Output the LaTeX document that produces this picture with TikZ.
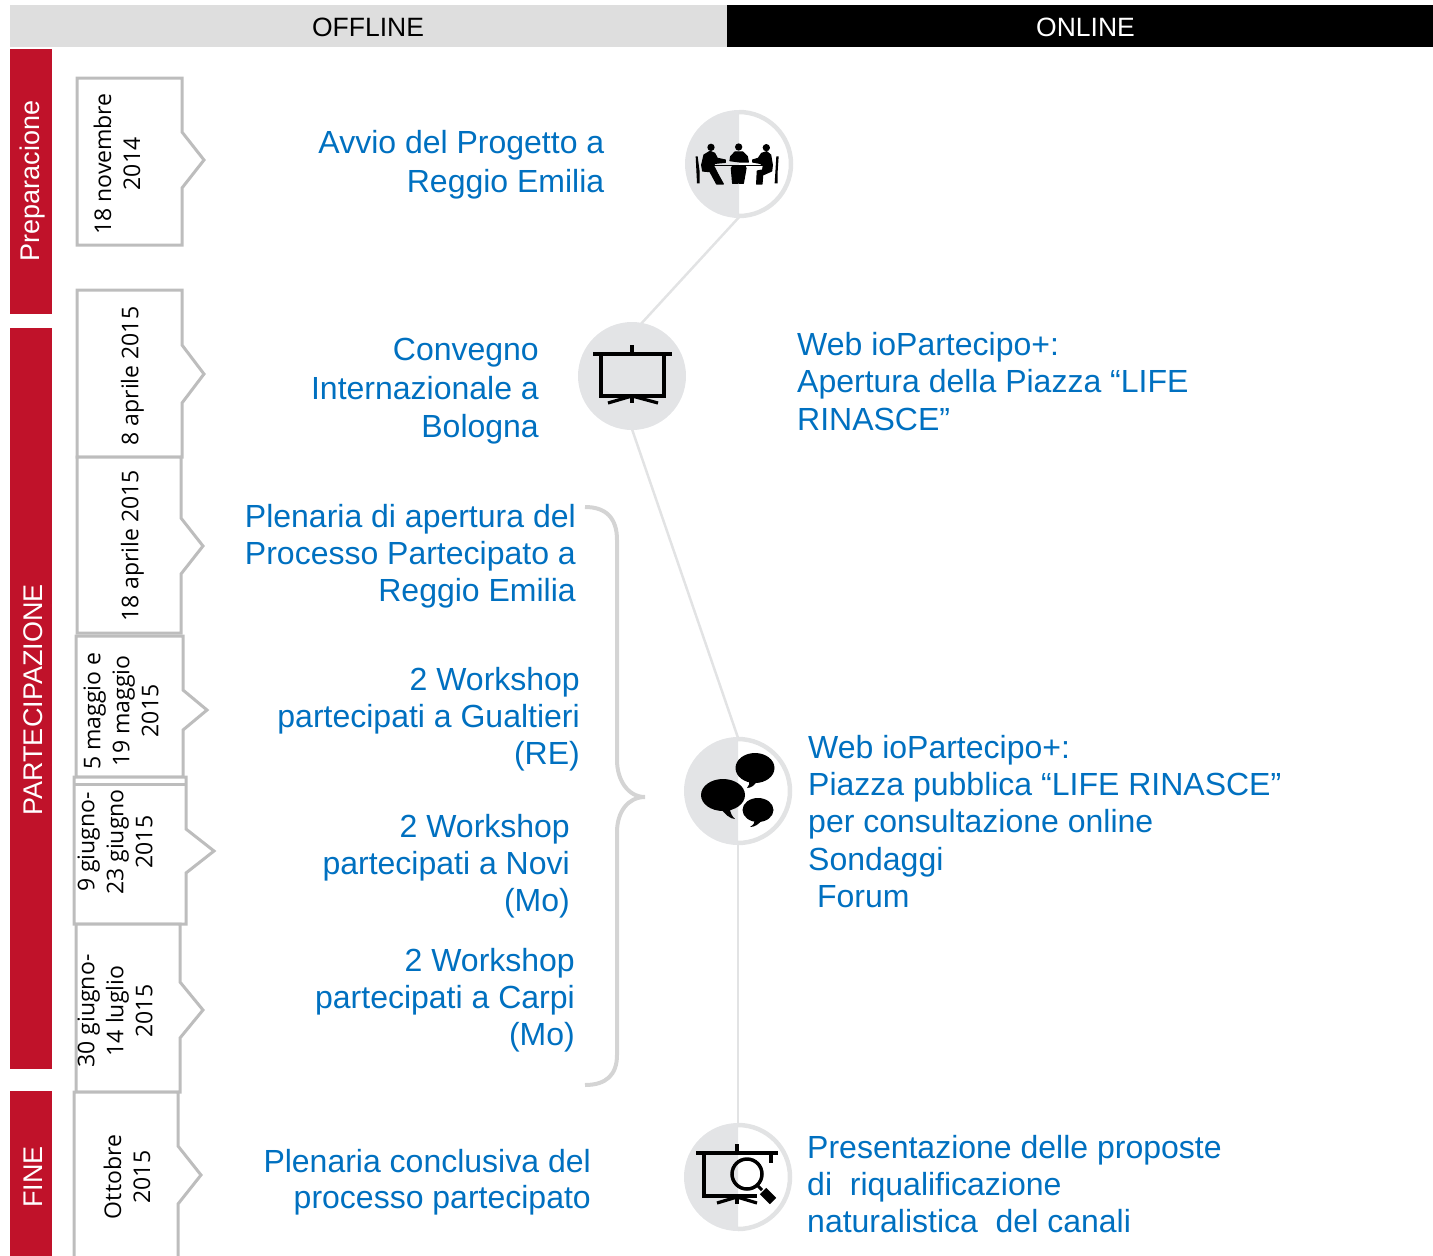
\documentclass[tikz,border=0pt]{standalone}
\usepackage{fontspec}
\setmainfont{Liberation Sans}
\newfontfamily\datefont{Open Sans}
\definecolor{blu}{HTML}{0070C0}
\definecolor{rosso}{HTML}{C0122A}
\definecolor{grig}{HTML}{E3E4E6}
\definecolor{testa}{HTML}{DEDEDE}
\definecolor{bordo}{HTML}{BDBDBD}
\definecolor{conn}{HTML}{E2E3E4}
\definecolor{graffa}{HTML}{D4D4D4}
\tikzset{
  bluR/.style={anchor=north east,align=right,inner sep=0pt,text=blu,font=\fontsize{32}{37}\selectfont,execute at begin node=\strut},
  bluL/.style={anchor=north west,align=left,inner sep=0pt,text=blu,font=\fontsize{32}{37}\selectfont,execute at begin node=\strut},
  datetxt/.style={rotate=90,align=center,inner sep=0pt,font=\datefont\fontsize{23}{29}\selectfont},
  bandtxt/.style={rotate=90,inner sep=0pt,text=white,font=\fontsize{27}{32}\selectfont},
  headtxt/.style={inner sep=0pt,font=\fontsize{26.5}{30}\selectfont},
  datebox/.style={draw=bordo,line width=3pt,fill=white,line join=miter},
  disc/.style={circle,minimum size=106pt,inner sep=0pt,draw=none},
  link/.style={draw=conn,line width=2.5pt},
  ring/.style={draw=conn,line width=4.5pt},
  ico/.style={draw=black,line width=3.2pt},
  person/.style={fill=black,draw=black,line width=1.2pt,line join=round},
}
% x1,y1,x2,y2,notch top,notch bottom,tip x
\newcommand{\dbox}[7]{\path[datebox] (#1,#2) -- (#3,#2) -- (#3,#5) -- (#7,{(#5+#6)/2}) -- (#3,#6) -- (#3,#4) -- (#1,#4) -- cycle;}
\newcommand{\halfdisc}[2]{%
  \fill[grig] (#1,#2-54) arc[start angle=90,end angle=270,radius=54pt] -- cycle;
  \draw[ring] (#1,#2-52) arc[start angle=90,end angle=-90,radius=52pt];}
\begin{document}
\begin{tikzpicture}[x=1pt,y=-1pt]
\useasboundingbox (0,0) rectangle (1433,1256);
% header
\fill[testa] (10,5) rectangle (727,47);
\fill[black] (727,5) rectangle (1433,47);
\node[headtxt] (hoff) at (368,27) {OFFLINE};
\node[headtxt,text=white] (hon) at (1085.5,27) {ONLINE};
% bands
\fill[rosso] (10,49) rectangle (52,314);
\fill[rosso] (10,328) rectangle (52,1069);
\fill[rosso] (10,1091) rectangle (52,1256);
\node[bandtxt] (b1) at (33,181) {Preparacione};
\node[bandtxt] (b2) at (33,700) {PARTECIPAZIONE};
\node[bandtxt] (b3) at (33,1177) {FINE};
% date boxes
\begin{scope}
\clip (0,0) rectangle (1433,1256);
\dbox{77}{78}{182}{245}{132}{188}{204}
\dbox{77}{290}{182}{457}{345}{403}{204}
\dbox{77}{457}{181}{633}{518}{574}{203}
\dbox{76}{636}{183}{777}{690}{730}{207}
\dbox{74}{777}{186}{924}{829}{873}{214}
\draw[bordo,line width=3pt] (74,784.5) -- (186,784.5);
\dbox{76}{924}{180}{1092}{982}{1038}{203}
\dbox{74}{1092}{178}{1270}{1146}{1204}{201}
\end{scope}
\node[datetxt] (d1) at (117,164) {18 novembre\\2014};
\node[datetxt] (d2) at (132.5,376) {8 aprile 2015};
\node[datetxt] (d3) at (132.5,546) {18 aprile 2015};
\node[datetxt] (d4) at (121,711) {5 maggio e\\19 maggio\\2015};
\node[datetxt] (d5) at (115,842) {9 giugno-\\23 giugno\\2015};
\node[datetxt] (d6) at (115,1011) {30 giugno-\\14 luglio\\2015};
\node[datetxt] (d7) at (127,1177) {Ottobre\\2015};
% nodes of the timeline
\node[disc] (c1) at (739,164) {};
\node[disc] (c2) at (632,376) {};
\node[disc] (c3) at (738,791) {};
\node[disc] (c4) at (738,1177) {};
\draw[link] (c1.south) -- (c2.80);
\draw[link] (c2.south) -- (c3.north);
\draw[link] (c3.south) -- (c4.north);
\halfdisc{739}{164}
\fill[grig] (c2) circle (54pt);
\halfdisc{738}{791}
\halfdisc{738}{1177}
% people icon
\begin{scope}[shift={(660,90)},x=0.3333pt,y=-0.3333pt]
\fill (153,172) circle (11);
\fill (236,171) circle (11);
\fill (319,173) circle (11);
\path[person] (125,225) -- (132,195) -- (150,184) -- (164,190) -- (172,205) -- (196,210) -- (196,217) -- (165,220) -- (160,226) -- (175,255) -- (190,282) -- (170,282) -- (150,245) -- (128,243) -- cycle;
\path[person] (212,200) -- (225,186) -- (248,186) -- (262,200) -- (265,216) -- (240,216) -- (210,212) -- cycle;
\path[person] (218,228) -- (255,228) -- (258,235) -- (250,280) -- (238,280) -- (236,250) -- (234,280) -- (218,280) -- (214,235) -- cycle;
\path[person] (337,225) -- (332,195) -- (320,185) -- (305,190) -- (295,205) -- (278,210) -- (278,216) -- (300,220) -- (310,226) -- (308,240) -- (292,243) -- (290,282) -- (306,282) -- (308,255) -- (335,243) -- cycle;
\fill (107,199) -- (113,199) -- (119,245) -- (119,280) -- (111,280) -- cycle;
\fill (349,199) -- (356,199) -- (353,245) -- (353,280) -- (344,280) -- cycle;
\fill (155,224) rectangle (312,228);
\end{scope}
% screen icon
\draw[ico] (593,354) -- (672,354);
\draw[ico] (632,345) -- (632,354);
\draw[ico] (601,354) -- (601,396) -- (664,396) -- (664,354);
\draw[ico] (608,403) -- (632,396) -- (658,403);
\draw[ico] (632,396) -- (632,403);
% speech bubbles
\fill (723,795) ellipse (22pt and 16pt);
\fill (720,808) -- (730,808) .. controls (730,813) and (732,816) .. (735,819) .. controls (730,819) and (725,814) .. (720,808) -- cycle;
\fill (755,768) ellipse (19.5pt and 15pt);
\fill (749,780) -- (757,781) .. controls (755,785) and (751,788) .. (747,788) .. controls (749,786) and (750,783) .. (749,780) -- cycle;
\fill (758,810) ellipse (15.5pt and 12pt);
\fill (755,820) -- (762,820) .. controls (759,824) and (755,827) .. (750,827) .. controls (753,825) and (755,823) .. (755,820) -- cycle;
% screen with lens icon
\draw[ico] (696,1153) -- (778,1153);
\draw[ico] (737,1144) -- (737,1153);
\draw[ico] (704,1153) -- (704,1196) -- (757,1196);
\draw[ico] (771,1153) -- (771,1163);
\draw[ico] (717,1203) -- (737,1197) -- (757,1203);
\draw[ico] (737,1197) -- (737,1204);
\draw[black,line width=3.5pt] (747,1174) circle (15pt);
\draw[black,line width=3pt] (757,1185) -- (762,1190);
\draw[black,line width=9pt] (763,1191) -- (773,1201);
% brace
\draw[draw=graffa,line width=4pt] (585,507) .. controls (606,507) and (617,518) .. (617,540) -- (617,760) .. controls (617,780) and (628,797) .. (645,797) .. controls (628,797) and (617,812) .. (617,832) -- (617,1055) .. controls (617,1075) and (606,1085) .. (585,1085);
% texts
\node[bluR,font=\fontsize{32}{38.8}\selectfont] (t1) at (604.5,130) {Avvio del Progetto a\\Reggio Emilia};
\node[bluR,font=\fontsize{32}{38.5}\selectfont] (t2) at (539,338) {Convegno\\Internazionale a\\Bologna};
\node[bluR] (t3) at (576,504) {Plenaria di apertura del\\Processo Partecipato a\\Reggio Emilia};
\node[bluR] (t4) at (580,667) {2 Workshop\\partecipati a Gualtieri\\(RE)};
\node[bluR] (t5) at (570,814) {2 Workshop\\partecipati a Novi\\(Mo)};
\node[bluR] (t6) at (575,948) {2 Workshop\\partecipati a Carpi\\(Mo)};
\node[bluR,font=\fontsize{32}{36}\selectfont] (t7) at (591,1148.7) {Plenaria conclusiva del\\processo partecipato};
\node[bluL,font=\fontsize{32}{37.5}\selectfont] (t8) at (797,332) {Web ioPartecipo+:\\Apertura della Piazza “LIFE\\RINASCE”};
\node[bluL,font=\fontsize{32}{37.3}\selectfont] (t9) at (808,735) {Web ioPartecipo+:\\Piazza pubblica “LIFE RINASCE”\\per consultazione online\\Sondaggi\\\ Forum};
\node[bluL] (t10) at (807,1135) {Presentazione delle proposte\\di\ \ riqualificazione\\naturalistica\ \ del canali};
\end{tikzpicture}
\end{document}
